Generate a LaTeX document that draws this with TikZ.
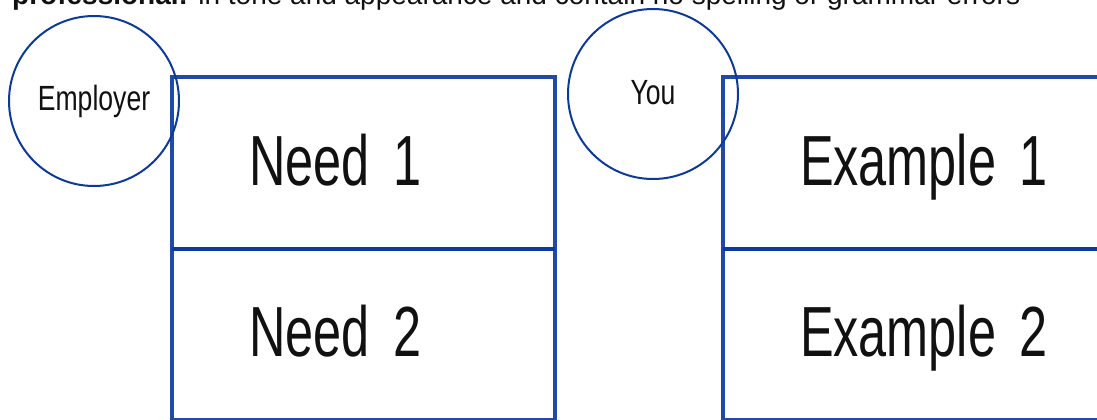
\documentclass[tikz,border=0pt]{standalone}
\usepackage{fontspec}
\setmainfont{Liberation Sans}
\newfontfamily\condfont[FakeStretch=0.71]{Liberation Sans}
\newfontfamily\condsmall[FakeStretch=0.76]{Liberation Sans}
\usetikzlibrary{positioning}
\definecolor{cFrame}{HTML}{1F4AA6}
\definecolor{cRule}{HTML}{0B3B9E}
\definecolor{cRing}{HTML}{0D3A9A}
\definecolor{cInk}{HTML}{111111}
\tikzset{
  cell/.style={draw=cFrame,line width=4pt,minimum height=171.5pt,inner xsep=77pt,inner ysep=0pt,text width=229pt,text height=51pt,text depth=6pt,outer sep=0pt,align=left,text=cInk,font=\condfont\fontsize{71}{71}\selectfont},
  ring/.style={circle,draw=cRing,line width=2pt,minimum size=170pt,inner sep=0pt,text=cInk,font=\condsmall\fontsize{35}{35}\selectfont},
  divrule/.style={draw=cRule,line width=4pt},
}

\begin{document}
\begin{tikzpicture}[x=1pt,y=-1pt]
  \useasboundingbox (0,0) rectangle (1097,420);
  \clip (0,0) rectangle (1097,420);
  % needs of the employer
  \node[cell,anchor=north west] (need1) at (172,77) {Need~1};
  \node[cell,below=0pt of need1] (need2) {Need~2};
  % matching examples
  \node[cell,anchor=north west] (ex1) at (723,77) {Example~1};
  \node[cell,below=0pt of ex1] (ex2) {Example~2};
  \draw[divrule] (need1.south west) -- (need1.south east);
  \draw[divrule] (ex1.south west) -- (ex1.south east);
  \node[ring] (employer) at (94,101) {Employer};
  \node[ring] (you) at (653,94) {\raisebox{3pt}{You}};
  \node[anchor=base west,inner sep=0pt,text=cInk,font=\fontsize{28}{30}\selectfont] (intro) at (12,5)
    {\textbf{professional:} in tone and appearance and contain no spelling or grammar errors};
\end{tikzpicture}
\end{document}
